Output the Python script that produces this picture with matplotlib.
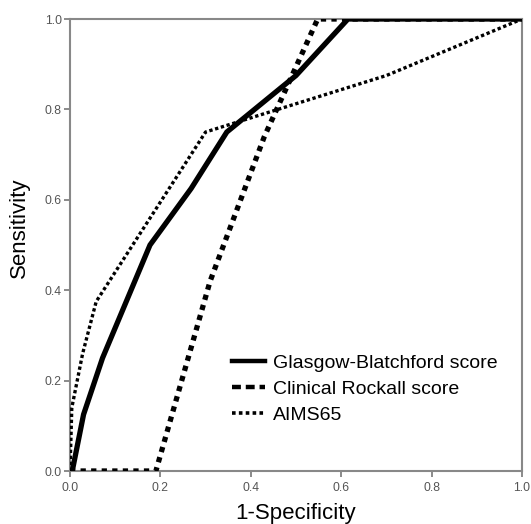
import matplotlib
matplotlib.use("Agg")
import matplotlib.pyplot as plt
from matplotlib.lines import Line2D

plt.rcParams['font.family'] = ['Liberation Sans', 'DejaVu Sans']

# Data
gbs_x = [0.0, 0.005, 0.03, 0.072, 0.177, 0.268, 0.347, 0.50, 0.615, 1.0]
gbs_y = [0.0, 0.0, 0.125, 0.25, 0.50, 0.625, 0.75, 0.875, 1.0, 1.0]

crs_x = [0.0, 0.19, 0.31, 0.43, 0.548, 1.0]
crs_y = [0.0, 0.0, 0.42, 0.74, 1.0, 1.0]

aims_x = [0.0, 0.004, 0.028, 0.058, 0.30, 0.70, 1.0]
aims_y = [0.0, 0.14, 0.26, 0.375, 0.75, 0.875, 1.0]

labels = ["Glasgow-Blatchford score", "Clinical Rockall score", "AIMS65"]
ticks = [0.0, 0.2, 0.4, 0.6, 0.8, 1.0]
tick_labels = ["0.0", "0.2", "0.4", "0.6", "0.8", "1.0"]

fig = plt.figure(figsize=(5.31, 5.24), dpi=100)
ax = fig.add_axes([70/531, 1 - 471/524, 452/531, 452/524])

ax.plot(gbs_x, gbs_y, color='black', lw=3.8, solid_joinstyle='miter', zorder=3)
ax.plot(crs_x, crs_y, color='black', lw=3.8, dashes=(1, 1), dash_capstyle='butt', zorder=3)
ax.plot(aims_x, aims_y, color='black', lw=2.4, dashes=(1, 0.8), dash_capstyle='butt', zorder=3)

ax.set_xlim(0, 1)
ax.set_ylim(0, 1)
ax.set_xticks(ticks)
ax.set_xticklabels(tick_labels)
ax.set_yticks(ticks)
ax.set_yticklabels(tick_labels)
ax.tick_params(axis='both', direction='out', length=4.5, width=1.2, color='#777777',
               labelsize=8.7, labelcolor='#555555', pad=1.5)
ax.tick_params(axis='x', pad=3.5)
for sp in ax.spines.values():
    sp.set_color('#888888')
    sp.set_linewidth(1.5)

ax.set_xlabel("1-Specificity", fontsize=16, labelpad=6.5)
ax.set_ylabel("Sensitivity", fontsize=16)
ax.yaxis.set_label_coords(-0.088, 0.538)

handles = [
    Line2D([], [], color='black', lw=3.2),
    Line2D([], [], color='black', lw=3.2, dashes=(2.0, 1.1)),
    Line2D([], [], color='black', lw=2.6, dashes=(1, 0.9)),
]
ax.legend(handles, labels, loc='upper left', bbox_to_anchor=(0.337, 0.279),
          frameon=False, fontsize=14, handlelength=1.7, handletextpad=0.42,
          labelspacing=0.43, borderpad=0)

fig.savefig("out.png", dpi=100)
